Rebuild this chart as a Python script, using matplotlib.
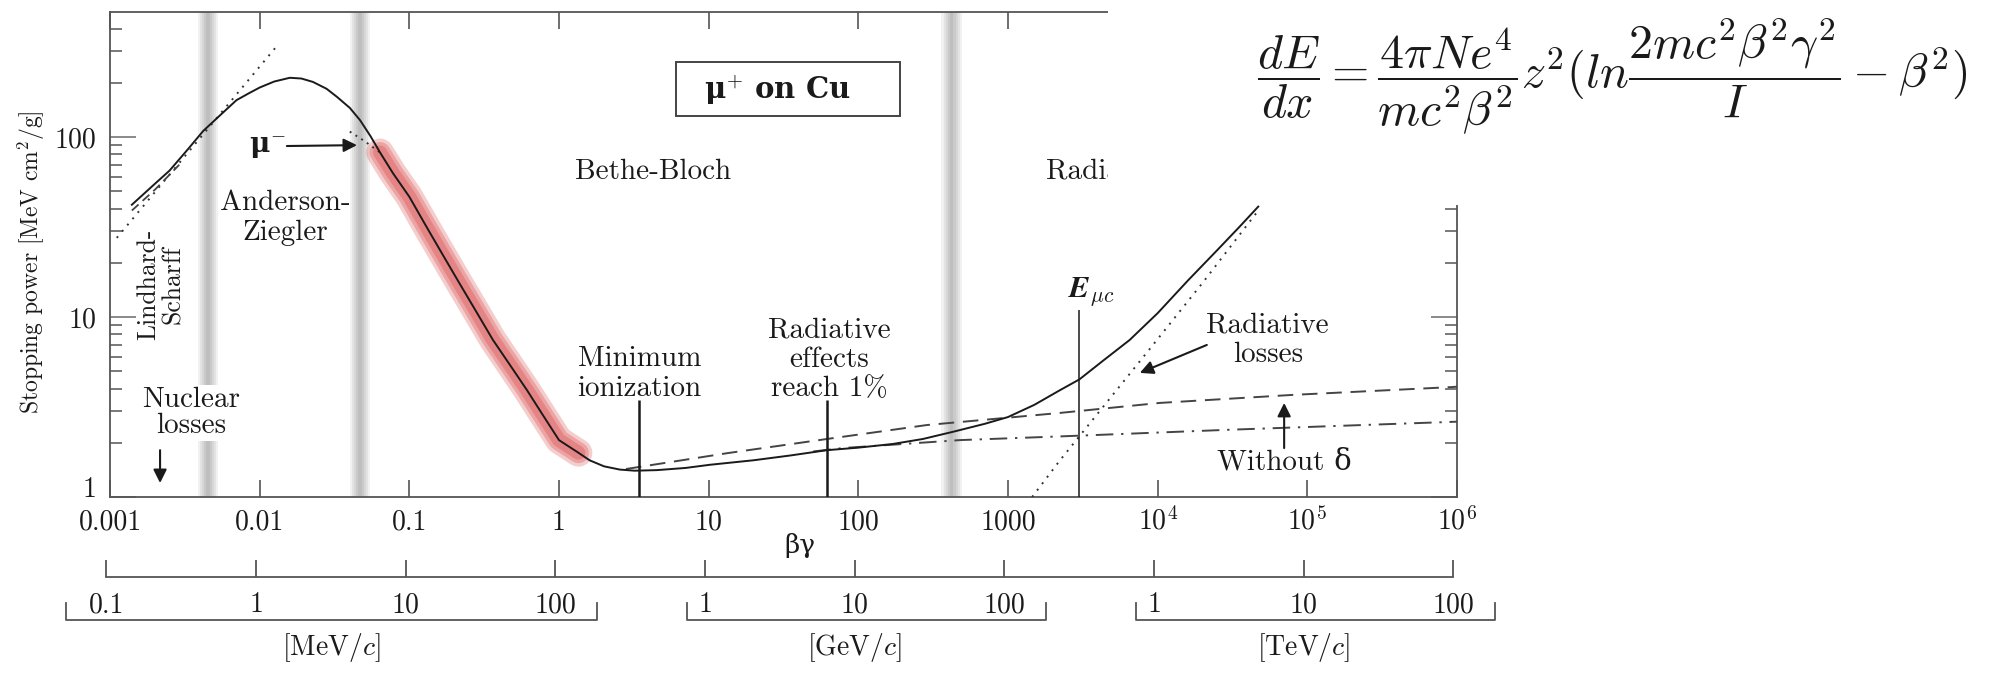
import numpy as np
import matplotlib
matplotlib.use("Agg")
import matplotlib.pyplot as plt
from matplotlib.patches import Rectangle
from matplotlib.ticker import (FixedLocator, FixedFormatter, LogLocator,
                               NullLocator, NullFormatter)

plt.rcParams["font.family"] = ["cmr10", "DejaVu Serif"]
plt.rcParams["mathtext.fontset"] = "cm"
plt.rcParams["axes.unicode_minus"] = False
plt.rcParams["axes.formatter.use_mathtext"] = True

# ---------------------------------------------------------------- data ----
# total stopping power of mu+ in copper  (beta*gamma, MeV cm^2/g)
BG_TOTAL = [0.0014, 0.0020, 0.0025, 0.0033, 0.0042, 0.0055, 0.0070, 0.0085,
            0.010, 0.0125, 0.0159, 0.019, 0.0227, 0.028, 0.0328, 0.040,
            0.0468, 0.055, 0.0637, 0.0776, 0.10, 0.131, 0.168, 0.218, 0.28,
            0.362, 0.46, 0.61, 0.80, 1.0, 1.35, 1.6, 2.0, 2.55, 3.2, 4.5,
            7.0, 10.2, 20, 35, 61.7, 100, 170, 270, 427, 700, 1000, 1500,
            2200, 3000, 4300, 6500, 10000, 16000, 25000, 35000, 47000]
S_TOTAL = [42, 55, 65, 85, 108, 133, 160, 175,
           188, 203, 213, 211, 202, 185, 167, 145,
           124, 101, 82, 63, 46.5, 31.4, 22.0, 15.2, 10.7,
           7.45, 5.56, 3.93, 2.76, 2.07, 1.76, 1.60, 1.48, 1.42, 1.40, 1.41,
           1.45, 1.51, 1.60, 1.70, 1.82, 1.88, 1.97, 2.10, 2.30, 2.55, 2.78, 3.25,
           3.9, 4.5, 5.7, 7.45, 10.5, 16.0, 23.5, 31.5, 41]

# ionization loss without density-effect correction
BG_NO_DELTA = [2.8, 13.2, 61.7, 287, 2218, 10300, 79400, 930000, 1000000]
S_NO_DELTA = [1.43, 1.75, 2.10, 2.51, 2.93, 3.33, 3.69, 4.08, 4.10]

# ionization loss with density effect (radiative part removed)
BG_IONIZATION = [50, 78.9, 476, 2218, 28800, 1000000]
S_IONIZATION = [1.79, 1.87, 2.07, 2.17, 2.36, 2.62]

# radiative losses
BG_RADIATIVE = [1450, 2200, 3700, 8800, 20000, 47000]
S_RADIATIVE = [1.0, 1.58, 2.7, 6.6, 15.5, 39]

# Lindhard (velocity-proportional) extrapolation at low energy
BG_LINDHARD = [0.00111, 0.0132]
S_LINDHARD = [27.5, 324]

# Lindhard-Scharff low-energy calculation
BG_LS = [0.0014, 0.0020, 0.0029]
S_LS = [39, 51, 70]

# mu- (Barkas effect)
BG_MU_MINUS = [0.040, 0.050, 0.0637]
S_MU_MINUS = [107, 95, 82]

# highlighted Bethe-Bloch stretch
HIGHLIGHT_RANGE = (0.062, 1.4)

# boundaries between the descriptive regions
BAND_BG = [0.0045, 0.047, 420]

# axis ticks
BG_TICKS = [1e-3, 1e-2, 1e-1, 1, 10, 100, 1000, 1e4, 1e5, 1e6]
BG_TICK_LABELS = ["0.001", "0.01", "0.1", "1", "10", "100", "1000",
                  r"$10^4$", r"$10^5$", r"$10^6$"]
S_TICKS = [1, 10, 100]
S_TICK_LABELS = ["1", "10", "100"]

# muon momentum scale  (MeV/c)
MUON_MASS = 105.66
P_DECADES = [1e-1, 1, 10, 100, 1e3, 1e4, 1e5, 1e6, 1e7, 1e8]
P_GROUPS = [
    ("[MeV/$c$]", [1e-1, 1, 10, 100], ["0.1", "1", "10", "100"]),
    ("[GeV/$c$]", [1e3, 1e4, 1e5], ["1", "10", "100"]),
    ("[TeV/$c$]", [1e6, 1e7, 1e8], ["1", "10", "100"]),
]

# ---------------------------------------------------------------- figure --
W, H = 2016, 680
fig = plt.figure(figsize=(W / 100, H / 100), dpi=100)
fig.patch.set_facecolor("white")


def fig_rect(x0, y0, x1, y1):
    """pixel box (top-left origin) -> figure fraction [l, b, w, h]"""
    return [x0 / W, 1 - y1 / H, (x1 - x0) / W, (y1 - y0) / H]


ax = fig.add_axes(fig_rect(110, 12, 1457, 497))
ax.set_xscale("log")
ax.set_yscale("log")
ax.set_xlim(BG_TICKS[0], BG_TICKS[-1])
ax.set_ylim(1, 494)

INK = "#1a1a1a"
FRAME = "#555555"

for sp in ax.spines.values():
    sp.set_color(FRAME)
    sp.set_linewidth(1.3)

ax.xaxis.set_major_locator(FixedLocator(BG_TICKS))
ax.xaxis.set_major_formatter(FixedFormatter(BG_TICK_LABELS))
ax.xaxis.set_minor_locator(NullLocator())
ax.yaxis.set_major_locator(FixedLocator(S_TICKS))
ax.yaxis.set_major_formatter(FixedFormatter(S_TICK_LABELS))
ax.yaxis.set_minor_locator(LogLocator(base=10, subs=np.arange(2, 10)))
ax.yaxis.set_minor_formatter(NullFormatter())

ax.tick_params(axis="x", which="major", direction="in", top=True,
               bottom=True, length=12, width=1.2, color=FRAME, pad=23.5,
               labelsize=20, labelcolor=INK)
ax.tick_params(axis="y", which="major", direction="in", left=True,
               right=True, length=18.5, width=1.2, color="#777777", pad=10,
               labelsize=20, labelcolor=INK)
ax.tick_params(axis="y", which="minor", direction="in", left=True,
               right=True, length=8.5, width=1.1, color=FRAME)
for t in ax.xaxis.get_major_ticks():
    t.label1.set_verticalalignment("baseline")
ax.yaxis.get_major_ticks()[0].label1.set_verticalalignment("baseline")

ax.set_xlabel("βγ", fontsize=19, family=["DejaVu Serif"], color=INK)
ax.xaxis.set_label_coords(0.512, -0.075)
ax.set_ylabel("Stopping power [MeV cm$^2$/g]", fontsize=17, color=INK)
ax.yaxis.set_label_coords(-0.047, 0.485)

# soft grey region boundaries
for c in BAND_BG:
    for hw in (0.068, 0.054, 0.040, 0.026, 0.012):
        ax.axvspan(c / 10 ** hw, c * 10 ** hw, color="black", alpha=0.055,
                   lw=0, zorder=0.5)

# highlighted stretch of the Bethe-Bloch curve
hb = [b for b in BG_TOTAL if HIGHLIGHT_RANGE[0] <= b <= HIGHLIGHT_RANGE[1]]
hs = [s for b, s in zip(BG_TOTAL, S_TOTAL)
      if HIGHLIGHT_RANGE[0] <= b <= HIGHLIGHT_RANGE[1]]
for lw, a in ((20, 0.30), (15, 0.36), (10, 0.42)):
    ax.plot(hb, hs, color="#dd5a5a", lw=lw, alpha=a, solid_capstyle="round",
            solid_joinstyle="round", zorder=1.5)

# curves
ax.plot(BG_TOTAL, S_TOTAL, color=INK, lw=1.4, zorder=4)
ax.plot(BG_NO_DELTA, S_NO_DELTA, color="#444444", lw=1.4,
        ls=(0, (8, 4.5)), zorder=3)
ax.plot(BG_IONIZATION, S_IONIZATION, color="#444444", lw=1.4,
        ls=(0, (9, 4, 1.2, 4)), zorder=3)
ax.plot(BG_RADIATIVE, S_RADIATIVE, color="#333333", lw=1.4,
        ls=(0, (1, 3.2)), zorder=3)
ax.plot(BG_LINDHARD, S_LINDHARD, color="#333333", lw=1.4,
        ls=(0, (1, 3.2)), zorder=3)
ax.plot(BG_LS, S_LS, color="#444444", lw=1.3, ls=(0, (5, 3)), zorder=3)
ax.plot(BG_MU_MINUS, S_MU_MINUS, color="#333333", lw=1.4,
        ls=(0, (1, 2.5)), zorder=3)

# marker lines
ax.vlines(3.4, 1, 3.46, color=INK, lw=1.8, zorder=4)
ax.vlines(62, 1, 3.46, color=INK, lw=1.8, zorder=4)
ax.vlines(2970, 1, 10.9, color=INK, lw=1.1, zorder=4)

# labels inside the frame
TXT = dict(color=INK, fontsize=21, ha="center", va="center", zorder=6)
ax.text(4.24, 64, "Bethe-Bloch", **TXT)
ax.text(1790, 64, "Radiative", **{**TXT, "ha": "left"})
ax.text(0.01475, 35.5, "Anderson-\nZiegler", linespacing=1.15, **TXT)
ax.text(0.00219, 15.1, "Lindhard-\nScharff", rotation=90, linespacing=1.05,
        **{**TXT, "fontsize": 18.5})
ax.text(0.00348, 2.93, "Nuclear\nlosses", linespacing=1.0,
        bbox=dict(facecolor="white", edgecolor="none", pad=1.0), **TXT)
ax.text(3.45, 4.82, "Minimum\nionization", linespacing=1.15, **TXT)
ax.text(64, 5.77, "Radiative\neffects\nreach 1%", linespacing=1.15, **TXT)
ax.text(3630, 13.9, r"$\mathbfit{E}_{\mu c}$", **{**TXT, "fontsize": 22})
ax.text(54400, 7.45, "Radiative\nlosses", linespacing=1.15, **TXT)
ax.text(70700, 1.56, "Without δ", **TXT)
ax.text(0.0112, 86.9, "μ$^{-}$", family=["DejaVu Serif"],
        fontweight="bold", **{**TXT, "fontsize": 20})

ARROW = dict(arrowstyle="-|>", color=INK, lw=1.5, mutation_scale=20,
             shrinkA=0, shrinkB=0)
ax.annotate("", xy=(0.0447, 90), xytext=(0.0152, 89), arrowprops=ARROW,
            zorder=6)
ax.annotate("", xy=(0.00216, 1.196), xytext=(0.00216, 1.82),
            arrowprops=ARROW, zorder=6)
ax.annotate("", xy=(7600, 4.89), xytext=(21300, 6.99), arrowprops=ARROW,
            zorder=6)
ax.annotate("", xy=(70000, 3.33), xytext=(70000, 1.87), arrowprops=ARROW,
            zorder=6)

# particle / target box
ax.text(28.6, 182, "μ$^{+}$ on Cu", family=["DejaVu Serif"],
        fontweight="bold", color=INK, fontsize=21, ha="center",
        va="center", zorder=6)
ax.add_patch(Rectangle((0.4202, 0.7856), 0.1663, 0.1113,
                       transform=ax.transAxes, facecolor="none",
                       edgecolor="#444444", lw=1.4, zorder=6))

# ------------------------------------------------------ momentum scale ----
axp = fig.add_axes(fig_rect(110, 540, 1457, 680))
axp.set_xscale("log")
axp.set_xlim(BG_TICKS[0] * MUON_MASS, BG_TICKS[-1] * MUON_MASS)
axp.set_ylim(140, 0)
axp.axis("off")

LINE = dict(color="#555555", lw=1.3, clip_on=False)
axp.plot([P_DECADES[0], P_DECADES[-1]], [37, 37], **LINE)
axp.vlines(P_DECADES, 20, 37, **LINE)

for (unit, vals, labs), (lo, hi) in zip(P_GROUPS,
                                        [(1 / 1.85, 1.9), (1 / 1.33, 1.9),
                                         (1 / 1.33, 1.9)]):
    axp.plot([vals[0] * lo, vals[0] * lo, vals[-1] * hi, vals[-1] * hi],
             [63, 80, 80, 63], **LINE)
    for v, lab in zip(vals, labs):
        axp.text(v, 65, lab, fontsize=20, color=INK, ha="center",
                 va="center")
    axp.text(np.sqrt(vals[0] * vals[-1]), 107, unit, fontsize=20, color=INK,
             ha="center", va="center")

axp.text(0.5, 129, "Muon momentum", transform=axp.get_xaxis_transform(),
         fontsize=20, color=INK, ha="center", va="center")

# ------------------------------------------------------ formula panel -----
fig.add_artist(Rectangle((1108 / W, 1 - 205 / H), 1 - 1108 / W, 205 / H,
                         transform=fig.transFigure, facecolor="white",
                         edgecolor="none", zorder=10))
fig.text(1612 / W, 1 - 76 / H,
         r"$\dfrac{dE}{dx} = \dfrac{4\pi Ne^4}{mc^2\beta^2}z^2"
         r"(ln\dfrac{2mc^2\beta^2\gamma^2}{I} - \beta^2)$",
         fontsize=34.5, color=INK, ha="center", va="center", zorder=11)

fig.savefig("out.png", dpi=100, facecolor="white")
